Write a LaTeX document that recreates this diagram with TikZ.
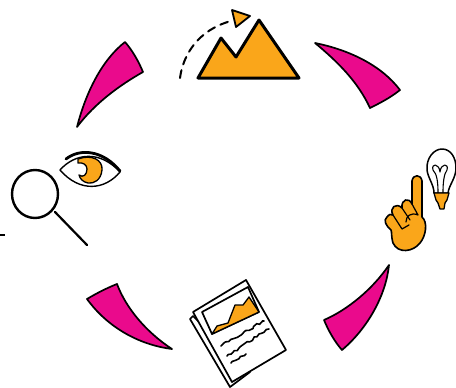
\documentclass[tikz,border=0pt]{standalone}
\usetikzlibrary{decorations.pathmorphing}
\definecolor{petal}{HTML}{EA0A8C}
\definecolor{amber}{HTML}{FAA61A}
\tikzset{
  petal/.style={fill=petal,draw=black,line width=1.7pt,line join=round},
  inkline/.style={draw=black,line width=1.9pt,line cap=round,line join=round},
  inkfill/.style={inkline,fill=amber},
  squiggle/.style={draw=black,line width=1.6pt,line cap=round,decorate,decoration={random steps,segment length=3pt,amplitude=1.3pt}}
}
\begin{document}
\begin{tikzpicture}[x=1pt,y=-1pt]
        \useasboundingbox (0,0) rectangle (456,388);

        % petals
        \path[petal] (125,42) .. controls (102,60) and (86,92) .. (77,127) .. controls (95,103) and (120,85) .. (143,72) .. controls (138,60) and (132,50) .. (125,42) -- cycle;
        \path[petal] (315,43) .. controls (350,50) and (382,66) .. (400,90) .. controls (390,98) and (380,103) .. (370,108) .. controls (358,82) and (338,62) .. (315,43) -- cycle;
        \path[petal] (389,265) .. controls (386,295) and (368,328) .. (342,350) .. controls (335,342) and (329,332) .. (324,320) .. controls (347,310) and (372,290) .. (389,265) -- cycle;
        \path[petal] (87,299) .. controls (97,293) and (107,288) .. (117,284) .. controls (126,308) and (146,332) .. (172,349) .. controls (140,345) and (108,328) .. (87,299) -- cycle;

        % mountain
        \path[inkfill,line width=3pt] (198,78) -- (221,38) -- (236,57) -- (259,20) -- (299,78) -- cycle;
        \path[inkfill,line width=1.8pt] (232,10) -- (250,16) -- (236,27) -- cycle;
        \draw[inkline,line width=2pt,dash pattern=on 8pt off 6pt] (180,78) .. controls (183,55) and (198,30) .. (231,21);

        % magnifier
        \draw[inkline,line width=2.4pt] (35,194) ellipse (23 and 24);
        \draw[inkline,line width=2.2pt] (55,212) -- (87,245);
        \coordinate (tick) at (0,235);
        \draw[black,line width=1.2pt] (tick) -- (5,235);

        % eye
        \path[inkline,fill=white,line width=1.4pt] (60,170) .. controls (75,153) and (100,150) .. (120,172) .. controls (105,190) and (80,193) .. (60,170) -- cycle;
        \path[inkfill,line width=1.3pt] (78,159) .. controls (92,154) and (103,160) .. (102,170) .. controls (101,180) and (94,184) .. (88,183) .. controls (83,182) and (80,179) .. (79,175) .. controls (83,178) and (87,175) .. (87,169) .. controls (87,165) and (83,162) .. (78,163) -- cycle;
        \draw[inkline,line width=2.8pt] (66,159) .. controls (80,148) and (103,150) .. (120,171);

        % bulb
        \path[inkline,fill=white,line width=1.5pt] (434,193) .. controls (434,185) and (428,178) .. (427,170) .. controls (426,158) and (434,149) .. (442,149) .. controls (451,149) and (456,158) .. (456,168) .. controls (456,178) and (449,185) .. (448,193) -- cycle;
        \draw[inkline,line width=1.1pt] (438,193) .. controls (438,182) and (437,174) .. (433,170) .. controls (431,163) and (439,163) .. (440,172) .. controls (441,163) and (449,163) .. (447,170) .. controls (444,174) and (443,182) .. (443,193);
        \path[inkfill,line width=1.3pt] (434,193) -- (449,193) -- (447,200) -- (445,203) -- (444,209) -- (440,209) -- (438,203) -- (436,200) -- cycle;

        % hand
        \path[inkfill,line width=1.6pt] (412,181) .. controls (413,174) and (421,174) .. (422,181) -- (422,217) .. controls (428,222) and (426,236) .. (420,243) .. controls (413,252) and (398,254) .. (393,243) .. controls (391,236) and (392,232) .. (391,230) .. controls (386,226) and (383,220) .. (387,217) .. controls (389,214) and (391,214) .. (393,215) .. controls (389,208) and (396,202) .. (402,208) .. controls (401,199) and (409,197) .. (412,204) -- cycle;
        \draw[inkline,line width=1.2pt] (412,204) -- (418,215) .. controls (411,212) and (406,216) .. (406,222);
        \draw[inkline,line width=1.2pt] (402,208) -- (410,220);
        \draw[inkline,line width=1.2pt] (393,215) -- (402,229) -- (409,225);

        % report
        \path[inkline,fill=white,line width=1.7pt] (190,319) -- (193,316) -- (250,372) -- (230,387) -- cycle;
        \path[inkline,fill=white,line width=1.7pt] (193,312) -- (246,280) -- (286,350) -- (232,382) -- cycle;
        \path[inkline,fill=white,line width=1.7pt] (202,312) -- (248,287) -- (259,312) -- (212,334) -- cycle;
        \path[inkfill,line width=1.3pt] (212,334) -- (217,326) -- (228,323) -- (235,305) -- (243,305) -- (249,297) -- (259,312) -- cycle;
        \draw[squiggle] (221,346) -- (264,321);
        \draw[squiggle] (227,356) -- (269,329);
        \draw[squiggle] (231,363) -- (246,354);
    \end{tikzpicture}
\end{document}
